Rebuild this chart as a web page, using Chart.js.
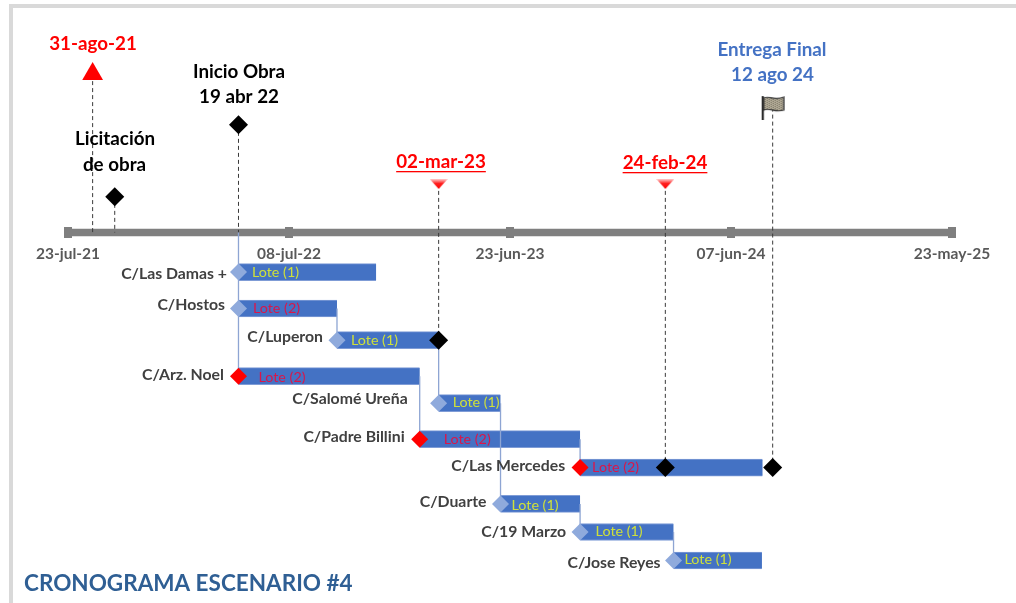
<!DOCTYPE html>
<html lang="es">
<head>
<meta charset="utf-8">
<title>Cronograma Escenario 4</title>
<script src="https://cdn.jsdelivr.net/npm/chart.js@4"></script>
<style>
  html, body { margin: 0; padding: 0; background: #fff; }
  #marco { position: absolute; left: 9px; top: 4px; width: 1003px; height: 595px; border-top: 4px solid #d9d9d9; border-left: 4px solid #d9d9d9; }
  #grafico { position: absolute; left: 0; top: 0; }
</style>
</head>
<body>
<div id="marco"></div>
<canvas id="grafico" width="1016" height="603"></canvas>
<script>
const fechaBase = "2021-07-23";
const ejeFechas = ["2021-07-23", "2022-07-08", "2023-06-23", "2024-06-07", "2025-05-23"];
const ejeEtiquetas = ["23-jul-21", "08-jul-22", "23-jun-23", "07-jun-24", "23-may-25"];

const calles = ["C/Las Damas +", "C/Hostos", "C/Luperon", "C/Arz. Noel", "C/Salomé Ureña", "C/Padre Billini", "C/Las Mercedes", "C/Duarte", "C/19 Marzo", "C/Jose Reyes"];
const lotes = ["Lote (1)", "Lote (2)", "Lote (1)", "Lote (2)", "Lote (1)", "Lote (2)", "Lote (2)", "Lote (1)", "Lote (1)", "Lote (1)"];
const inicios = ["2022-04-19", "2022-04-19", "2022-09-22", "2022-04-19", "2023-03-02", "2023-01-31", "2023-10-12", "2023-06-08", "2023-10-12", "2024-03-08"];
const finales = ["2022-11-23", "2022-09-22", "2023-03-02", "2023-01-31", "2023-06-08", "2023-10-12", "2024-07-27", "2023-10-12", "2024-03-08", "2024-07-26"];
const filas = [-1.10, -2.11, -2.99, -3.99, -4.74, -5.74, -6.53, -7.54, -8.32, -9.11];

// hitos: fecha, altura sobre el eje y hasta donde baja la linea punteada
const hitosFechas = ["2021-08-31", "2021-10-05", "2022-04-19", "2023-03-02", "2024-02-24", "2024-08-12"];
const hitosAltura = [4.40, 0.99, 2.99, 1.35, 1.35, 3.47];
const hitosHasta = [0, 0, 0, -2.99, -6.53, -6.53];

// conectores entre tareas: fecha, fila desde, fila hasta
const conectFechas = ["2022-04-19", "2022-09-22", "2023-01-31", "2023-03-02", "2023-06-08", "2023-10-12", "2023-10-12", "2024-03-08"];
const conectDesde = [0, -2.11, -3.99, -2.99, -4.74, -5.74, -7.54, -8.32];
const conectHasta = [-3.99, -2.99, -5.74, -4.74, -7.54, -6.53, -8.32, -9.11];

// rombos sobre las barras
const rombosFechas = ["2023-03-02", "2024-02-24", "2024-08-12"];
const rombosFilas = [-2.99, -6.53, -6.53];

const pxPorDia = 884 / 1400;
const pxPorFila = 36;
const filaEje = 232.5;

function dia(fecha) {
  return (new Date(fecha + "T00:00:00Z") - new Date(fechaBase + "T00:00:00Z")) / 86400000;
}

function iconoTriangulo() {
  const c = document.createElement("canvas");
  c.width = 18;
  c.height = 10;
  const g = c.getContext("2d");
  const grad = g.createLinearGradient(0, 0, 0, 10);
  grad.addColorStop(0, "#ffd0d0");
  grad.addColorStop(0.45, "#ff2020");
  grad.addColorStop(1, "#ff0000");
  g.fillStyle = grad;
  g.beginPath();
  g.moveTo(0, 0);
  g.lineTo(18, 0);
  g.lineTo(9, 10);
  g.fill();
  return c;
}

function iconoMarca() {
  const c = document.createElement("canvas");
  c.width = 8;
  c.height = 11;
  const g = c.getContext("2d");
  g.fillStyle = "#7f7f7f";
  g.fillRect(0, 0, 8, 11);
  return c;
}

function iconoBandera() {
  const c = document.createElement("canvas");
  c.width = 24;
  c.height = 25;
  const g = c.getContext("2d");
  g.beginPath();
  g.moveTo(3, 3);
  g.bezierCurveTo(8, 0, 13, 6, 23, 2);
  g.lineTo(23, 15);
  g.bezierCurveTo(14, 18, 9, 12, 3, 15);
  g.closePath();
  g.fillStyle = "#b3ac98";
  g.fill();
  g.save();
  g.clip();
  g.fillStyle = "#6f6a5c";
  for (let i = 0; i < 24; i += 2) {
    for (let j = i % 4 === 0 ? 0 : 1; j < 20; j += 2) g.fillRect(i, j, 1, 1);
  }
  g.restore();
  g.strokeStyle = "#333";
  g.lineWidth = 1.2;
  g.stroke();
  g.fillStyle = "#2b2b2b";
  g.fillRect(1, 1, 2.2, 24);
  return c;
}

// Armado de los datasets a partir de las listas
const datasets = [];

datasets.push({
  type: "bar",
  indexAxis: "y",
  order: 5,
  data: calles.map((c, i) => ({ x: [dia(inicios[i]), dia(finales[i])], y: filas[i] })),
  backgroundColor: "#4472c4",
  borderColor: "#7f9cd6",
  borderWidth: { top: 1, bottom: 1, left: 0, right: 0 },
  borderSkipped: false,
  barThickness: 17
});

datasets.push({
  type: "line",
  order: 6,
  data: [{ x: 0, y: 0 }, { x: 1400, y: 0 }],
  borderColor: "#7f7f7f",
  borderWidth: 7.5,
  pointRadius: 0
});

datasets.push({
  type: "scatter",
  order: 5,
  data: ejeFechas.map((f) => ({ x: dia(f), y: 0 })),
  pointStyle: iconoMarca(),
  pointRadius: 6
});

conectFechas.forEach((f, i) => {
  datasets.push({
    type: "line",
    order: 3,
    data: [{ x: dia(f), y: conectDesde[i] }, { x: dia(f), y: conectHasta[i] }],
    borderColor: "#8ea5d3",
    borderWidth: 1.3,
    pointRadius: 0
  });
});

hitosFechas.forEach((f, i) => {
  datasets.push({
    type: "line",
    order: 3,
    data: [{ x: dia(f), y: hitosAltura[i] }, { x: dia(f), y: hitosHasta[i] }],
    borderColor: "#3a3a3a",
    borderWidth: 1,
    borderDash: [4, 3],
    pointRadius: 0
  });
});

const triangulo = iconoTriangulo();
datasets.push({
  type: "scatter",
  order: 1,
  data: hitosFechas.map((f, i) => ({ x: dia(f), y: hitosAltura[i] })),
  pointStyle: ["triangle", "rectRot", "rectRot", triangulo, triangulo, iconoBandera()],
  pointRadius: [12, 9.5, 9.5, 9, 9, 12],
  pointBackgroundColor: ["#ff0000", "#000", "#000", "#ff0000", "#ff0000", "#000"],
  pointBorderWidth: 0
});

// rombo de inicio de cada tarea: rojo en las de lote 2 criticas
datasets.push({
  type: "scatter",
  order: 2,
  data: calles.map((c, i) => ({ x: dia(inicios[i]), y: filas[i] })),
  pointStyle: "rectRot",
  pointRadius: 8.5,
  pointBorderWidth: 0,
  pointBackgroundColor: ["#8faadc", "#8faadc", "#8faadc", "#ff0000", "#8faadc", "#ff0000", "#ff0000", "#8faadc", "#8faadc", "#8faadc"]
});

datasets.push({
  type: "scatter",
  order: 1,
  data: rombosFechas.map((f, i) => ({ x: dia(f), y: rombosFilas[i] })),
  pointStyle: "rectRot",
  pointRadius: 9.5,
  pointBorderWidth: 0,
  pointBackgroundColor: "#000"
});

// Posicion de los textos: desplazamientos en pixeles respecto a la barra
const nombreDx = [-11.5, -13.5, -14, -14.5, -31, -15, -15, -14, -14, -13];
const nombreDy = [2, -3.5, -3, -1, -4, -2.5, -2, -2, 0, 2];
const loteDx = [13.5, 14.5, 14, 20, 14, 24, 12, 11, 15.5, 11];
const loteDy = [0, 0, 0, 1, -1, 0, 0, 1, -1, -1];

const notas = [
  { t: "31-ago-21", x: 93, y: 44, c: "#ff0000" },
  { t: "Inicio Obra", x: 239, y: 72, c: "#000" },
  { t: "19 abr 22", x: 239, y: 97, c: "#000" },
  { t: "Licitación", x: 115, y: 139, c: "#000" },
  { t: "de obra", x: 114.5, y: 165, c: "#000" },
  { t: "02-mar-23", x: 441, y: 162, c: "#ff0000", u: true },
  { t: "24-feb-24", x: 665, y: 163, c: "#ff0000", u: true },
  { t: "Entrega Final", x: 772, y: 50, c: "#4472c4" },
  { t: "12 ago 24", x: 772.5, y: 75, c: "#4472c4" }
];

const textos = {
  id: "textos",
  afterDatasetsDraw(chart) {
    const { ctx, scales } = chart;
    ctx.save();
    ctx.textBaseline = "middle";

    ctx.textAlign = "right";
    ctx.font = "bold 15.8px Lato";
    ctx.fillStyle = "#404040";
    calles.forEach((c, i) => {
      ctx.fillText(c, scales.x.getPixelForValue(dia(inicios[i])) + nombreDx[i], scales.y.getPixelForValue(filas[i]) + nombreDy[i]);
    });

    ctx.textAlign = "left";
    ctx.font = "14.3px Lato";
    lotes.forEach((l, i) => {
      ctx.fillStyle = l === "Lote (1)" ? "#cfe03a" : "#d9164a";
      ctx.fillText(l, scales.x.getPixelForValue(dia(inicios[i])) + loteDx[i], scales.y.getPixelForValue(filas[i]) + loteDy[i]);
    });

    ctx.textAlign = "center";
    ctx.font = "bold 18.8px Lato";
    notas.forEach((n) => {
      ctx.fillStyle = n.c;
      ctx.fillText(n.t, n.x, n.y);
      if (n.u) {
        const w = ctx.measureText(n.t).width;
        ctx.fillRect(n.x - w / 2, n.y + 9, w, 1.3);
      }
    });

    ctx.textAlign = "left";
    ctx.font = "bold 22.5px Lato";
    ctx.fillStyle = "#2f5f94";
    ctx.fillText("CRONOGRAMA ESCENARIO #4", 24, 584);
    ctx.restore();
  }
};

new Chart(document.getElementById("grafico"), {
  data: { datasets: datasets },
  plugins: [textos],
  options: {
    responsive: false,
    animation: false,
    layout: { padding: 0, autoPadding: false },
    plugins: { legend: { display: false }, tooltip: { enabled: false } },
    scales: {
      x: {
        type: "linear",
        position: { y: 0 },
        min: -68 / pxPorDia,
        max: (1016 - 68) / pxPorDia,
        grid: { display: false },
        border: { display: false },
        afterBuildTicks(scale) {
          scale.ticks = ejeFechas.map((f) => ({ value: dia(f) }));
        },
        // el eje va en medio del grafico, no debe quitarle espacio al area
        afterFit(scale) {
          scale.paddingLeft = 0;
          scale.paddingRight = 0;
        },
        ticks: {
          autoSkip: false,
          maxRotation: 0,
          padding: 4.5,
          color: "#595959",
          font: { family: "Lato", weight: "bold", size: 15.5 },
          callback(valor) {
            return ejeEtiquetas[ejeFechas.findIndex((f) => dia(f) === valor)];
          }
        }
      },
      y: {
        type: "linear",
        display: false,
        offset: false,
        min: (filaEje - 603) / pxPorFila,
        max: filaEje / pxPorFila
      }
    }
  }
});
</script>
</body>
</html>
